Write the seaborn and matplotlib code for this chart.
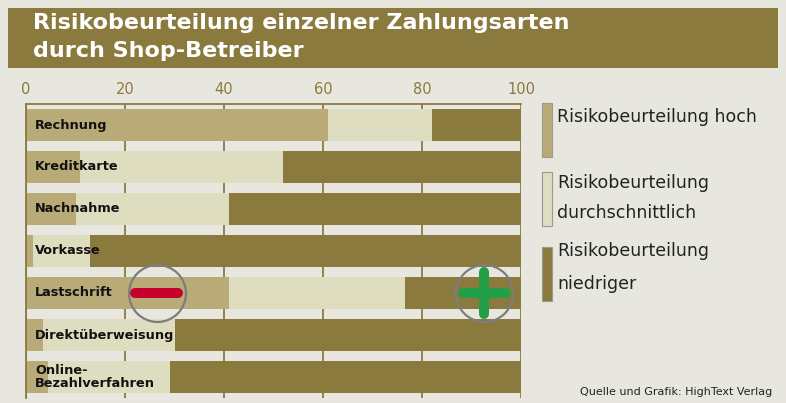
#!/usr/bin/env python3

import matplotlib
matplotlib.use("Agg")
import matplotlib.pyplot as plt
from matplotlib import font_manager
from matplotlib.patches import Rectangle
import seaborn as sns
import pandas

# data
methods = ["Rechnung", "Kreditkarte", "Nachnahme", "Vorkasse", "Lastschrift",
           "Direktüberweisung", "Online-\nBezahlverfahren"]
high = [61, 11, 10, 1.5, 41, 3.5, 4.5]
mid = [21, 41, 31, 11.5, 35.5, 26.5, 24.5]
low = [18, 48, 59, 87, 23.5, 70, 71]
ticks = [0, 20, 40, 60, 80, 100]
legend_labels = ["Risikobeurteilung hoch",
                 "Risikobeurteilung\ndurchschnittlich",
                 "Risikobeurteilung\nniedriger"]

BG = "#e8e7df"
OLIVE = "#8b7a3e"
C_HIGH = "#b9ab78"
C_MID = "#dfddc0"
C_LOW = "#8b7a3e"

W, H = 786, 403

sns.set_style("white")
names = {f.name for f in font_manager.fontManager.ttflist}
narrow = "Liberation Sans Narrow" if "Liberation Sans Narrow" in names else "DejaVu Sans"
plt.rcParams["font.family"] = [narrow, "DejaVu Sans"]


def fx(x):
    return x / W


def fy(y):
    return 1 - y / H


df = pandas.DataFrame({"method": methods, "high": high, "mid": mid, "low": low})
df["mid_end"] = df["high"] + df["mid"]
df["total"] = df["mid_end"] + df["low"]

fig = plt.figure(figsize=(W / 100, H / 100), dpi=100, facecolor=BG)

# title banner
fig.add_artist(Rectangle((fx(8), fy(68)), fx(770), 60 / H, transform=fig.transFigure,
                         facecolor=OLIVE, edgecolor="none"))
fig.text(fx(33), fy(23), "Risikobeurteilung einzelner Zahlungsarten", color="white",
         fontsize=16, fontweight="bold", va="center", ha="left")
fig.text(fx(33), fy(51), "durch Shop-Betreiber", color="white",
         fontsize=16, fontweight="bold", va="center", ha="left")

ax = fig.add_axes([fx(26), fy(398), fx(521 - 26), (398 - 104) / H])
ax.set_facecolor(BG)

# stacked bars, drawn back to front
for col, c in [("total", C_LOW), ("mid_end", C_MID), ("high", C_HIGH)]:
    sns.barplot(data=df, x=col, y="method", color=c, saturation=1, width=0.76,
                linewidth=0, orient="h", ax=ax)

for i, name in enumerate(methods):
    ax.text(1.8, i, name, va="center", ha="left", fontsize=9.3, fontweight="bold",
            color="#111111", linespacing=1.05)

ax.set_xlim(0, 100)
ax.set_ylim(6.5, -0.5)
ax.set_xticks(ticks)
ax.set_yticks([])
ax.xaxis.tick_top()
ax.tick_params(axis="x", length=0, pad=5, labelsize=10.5, labelcolor=OLIVE)
ax.set_xlabel("")
ax.set_ylabel("")
ax.grid(axis="x", color=OLIVE, linewidth=1.3)
ax.set_axisbelow(True)
for side in ["right", "bottom"]:
    ax.spines[side].set_visible(False)
for side in ["top", "left"]:
    ax.spines[side].set_color(OLIVE)
    ax.spines[side].set_linewidth(1.3)

# minus / plus markers on Lastschrift
row = methods.index("Lastschrift")
ax.plot([26.4], [row], marker="o", markersize=41, markerfacecolor="none",
        markeredgecolor="#7d7d7d", markeredgewidth=1.6, clip_on=False)
ax.plot([22.1, 30.7], [row, row], color="#c4002b", linewidth=7.2,
        solid_capstyle="round", clip_on=False)
ax.plot([92.6], [row], marker="o", markersize=41, markerfacecolor="none",
        markeredgecolor="#7d7d7d", markeredgewidth=1.6, clip_on=False)
ax.plot([88.3, 96.9], [row, row], color="#23a047", linewidth=7.2,
        solid_capstyle="round", clip_on=False)
ax.plot([92.6, 92.6], [row - 0.5, row + 0.5], color="#23a047", linewidth=7.2,
        solid_capstyle="round", clip_on=False)

# legend
swatches = [(103, 157, C_HIGH), (172, 226, C_MID), (247, 301, C_LOW)]
text_pos = [[(117, legend_labels[0])],
            [(183, "Risikobeurteilung"), (213, "durchschnittlich")],
            [(251, "Risikobeurteilung"), (284, "niedriger")]]
for (y0, y1, c), lines in zip(swatches, text_pos):
    fig.add_artist(Rectangle((fx(542), fy(y1)), fx(10), (y1 - y0) / H,
                             transform=fig.transFigure, facecolor=c,
                             edgecolor="#9a9a90", linewidth=0.8))
    for y, t in lines:
        fig.text(fx(557), fy(y), t, fontsize=12.5, color="#222222",
                 va="center", ha="left", family=["DejaVu Sans"])

fig.text(fx(772), fy(392), "Quelle und Grafik: HighText Verlag", fontsize=8,
         color="#222222", va="center", ha="right")

fig.savefig("out.png", dpi=100, facecolor=BG)
